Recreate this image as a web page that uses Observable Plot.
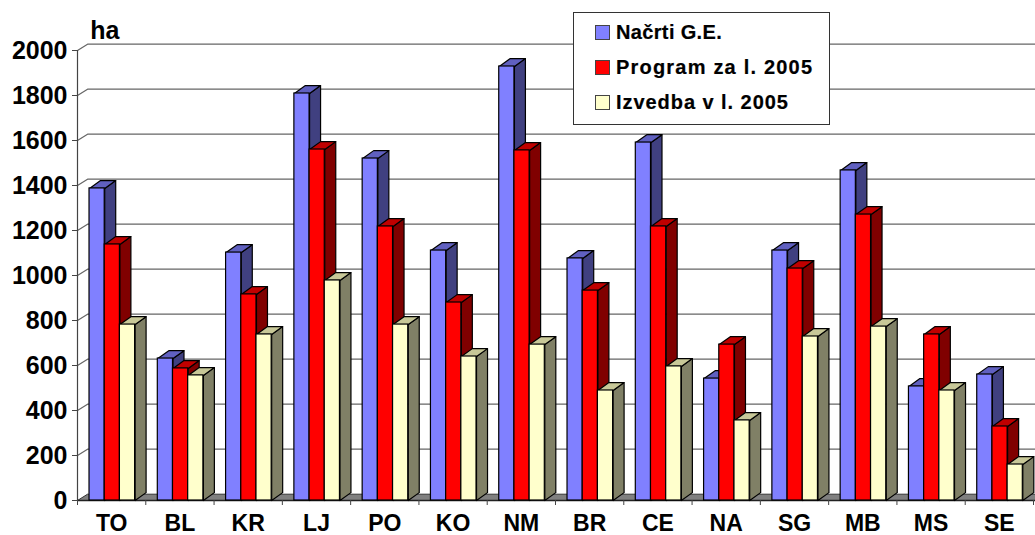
<!DOCTYPE html>
<html><head><meta charset="utf-8">
<script src="https://cdn.jsdelivr.net/npm/d3@7"></script>
<script src="https://cdn.jsdelivr.net/npm/@observablehq/plot@0.6"></script>
<style>
html,body{margin:0;padding:0;background:#fff}
#wrap{position:relative;width:1035px;height:535px;overflow:hidden;font-family:"Liberation Sans",Arial,sans-serif}
#legend{position:absolute;left:573px;top:12px;width:255px;height:111px;background:#fff;border:1px solid #333;box-sizing:content-box}
.row{position:absolute;left:21px;display:flex;align-items:center;height:20px;font-weight:bold;font-size:20px;color:#000;white-space:pre;-webkit-text-stroke:0.2px #000}
.sw{width:13px;height:13px;border:1px solid #444;margin-right:6px;flex:none}
text{-webkit-text-stroke:0.3px #000}
</style></head><body><div id="wrap"></div>
<script>
const categories = ["TO","BL","KR","LJ","PO","KO","NM","BR","CE","NA","SG","MB","MS","SE"];
const nacrti  = [1387,631,1102,1809,1520,1111,1929,1076,1591,542,1111,1467,507,560];
const program = [1138,587,916,1560,1218,880,1556,933,1218,693,1031,1271,738,329];
const izvedba = [782,556,738,978,782,640,693,489,596,356,729,773,489,160];
const seriesNames = ["Načrti G.E.","Program za l. 2005","Izvedba v l. 2005"];
const legendSpacing = [0.35, 1.2, 0.95];
const frontColors = ["#8080ff","#ff0000","#ffffcc"];
const topColors   = ["#6060c0","#c00000","#c8c898"];
const sideColors  = ["#404080","#800000","#808066"];
const yTicks = [0,200,400,600,800,1000,1200,1400,1600,1800,2000];

// chart geometry, in data units
const groupPad = 0.176, barW = 0.2225, depthX = 0.161, depthY = 35;
const wallX = 0.147, wallY = 28, xEnd = 14.1;

const values = [nacrti, program, izvedba];
const fronts = [], polys = [];
categories.forEach((c, i) => {
  values.forEach((vals, s) => {
    const x1 = i + groupPad + s * barW, x2 = x1 + barW, v = vals[i];
    fronts.push({x1, x2, y1: 0, y2: v, fill: frontColors[s]});
    const add = (id, fill, pts) => pts.forEach(([x, y]) => polys.push({id: `${i}-${s}-${id}`, fill, x, y}));
    add("side", sideColors[s], [[x2,0],[x2+depthX,depthY],[x2+depthX,v+depthY],[x2,v],[x2,0]]);
    add("top", topColors[s], [[x1,v],[x2,v],[x2+depthX,v+depthY],[x1+depthX,v+depthY],[x1,v]]);
  });
});
const floor = [[0,0],[xEnd,0],[xEnd,wallY],[wallX,wallY],[0,0]].map(([x,y]) => ({x,y}));
const grid = yTicks.filter(t => t > 0).flatMap(t => [
  {t, x: 0, y: t}, {t, x: wallX, y: t + wallY}, {t, x: xEnd, y: t + wallY}
]);

const chart = Plot.plot({
  width: 1035, height: 535,
  marginLeft: 77, marginRight: 2, marginTop: 50, marginBottom: 35,
  style: {fontFamily: '"Liberation Sans", Arial, sans-serif', fontSize: "25px", fontWeight: "bold", color: "#000", background: "#fff"},
  x: {domain: [0, 14], axis: null},
  y: {domain: [0, 2000], axis: null},
  color: {type: "identity"},
  marks: [
    Plot.line(grid, {x: "x", y: "y", z: "t", stroke: "#666", strokeWidth: 1.2, curve: "linear"}),
    Plot.line(floor, {x: "x", y: "y", fill: "#808080", stroke: "#333", strokeWidth: 1, curve: "linear"}),
    Plot.ruleX([0], {y1: 0, y2: 2000, stroke: "#444", strokeWidth: 1.2}),
    Plot.ruleY([0], {x1: 0, x2: xEnd, stroke: "#222", strokeWidth: 1.4}),
    Plot.line(polys, {x: "x", y: "y", z: "id", fill: "fill", stroke: "#000", strokeWidth: 1.2, curve: "linear"}),
    Plot.rect(fronts, {x1: "x1", x2: "x2", y1: "y1", y2: "y2", fill: "fill", stroke: "#000", strokeWidth: 1.2}),
    Plot.axisY({ticks: yTicks, tickSize: 5, tickPadding: 5, tickFormat: d => String(d), label: null, stroke: "#444"}),
    Plot.axisX({ticks: d3.range(0, 15), tickSize: 5, tickFormat: () => "", label: null, stroke: "#444"}),
    Plot.axisX({ticks: categories.map((c, i) => i + 0.5), tickSize: 0, tickPadding: 14, tickFormat: d => categories[Math.floor(d)], label: null, fontSize: 23}),
    Plot.text(["ha"], {x: [0.4], y: [2000], dy: -20})
  ]
});
const wrap = document.getElementById("wrap");
wrap.append(chart);
const legend = document.createElement("div");
legend.id = "legend";
const tops = [9, 44, 79];
seriesNames.forEach((n, i) => {
  const r = document.createElement("div");
  r.className = "row"; r.style.top = tops[i] + "px"; r.style.letterSpacing = legendSpacing[i] + "px";
  const s = document.createElement("span");
  s.className = "sw"; s.style.background = frontColors[i];
  r.append(s, n);
  legend.append(r);
});
wrap.append(legend);
</script></body></html>
